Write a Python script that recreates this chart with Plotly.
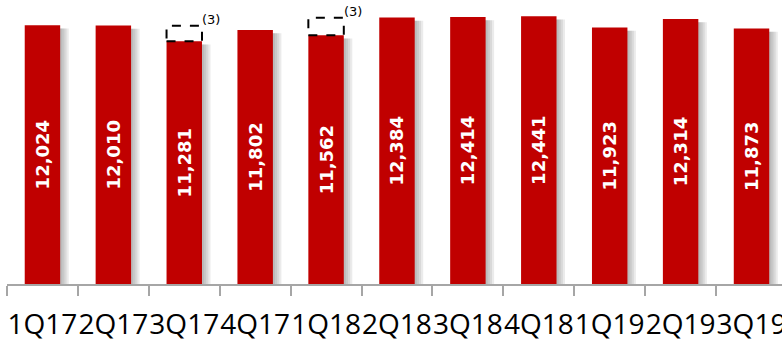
import plotly.graph_objects as go

# Quarterly values
quarters = ["1Q17", "2Q17", "3Q17", "4Q17", "1Q18", "2Q18", "3Q18", "4Q18", "1Q19", "2Q19", "3Q19"]
values = [12024, 12010, 11281, 11802, 11562, 12384, 12414, 12441, 11923, 12314, 11873]

# Restated levels shown as dashed outlines above two quarters
restated_quarters = ["3Q17", "1Q18"]
restated_values = [12000, 12380]
restated_note = "(3)"

BAR_RED = "#C00000"
BAR_W = 0.5

fig = go.Figure()

# soft drop shadow to the right of each bar
for k, dx in enumerate([0.03, 0.06, 0.09, 0.12]):
    fig.add_trace(go.Bar(
        x=quarters, y=values, base=-150,
        width=BAR_W, offset=-BAR_W / 2 + dx,
        marker=dict(color="rgba(90,90,90,0.12)", line=dict(width=0)),
        hoverinfo="skip", showlegend=False,
    ))

fig.add_trace(go.Bar(
    x=quarters, y=values,
    width=BAR_W, offset=-BAR_W / 2,
    marker=dict(color=BAR_RED, line=dict(width=0)),
    text=[f"{v:,}" for v in values],
    textposition="inside", insidetextanchor="middle", textangle=-90,
    textfont=dict(family="DejaVu Sans", size=18, color="white", weight="bold"),
    constraintext="none", showlegend=False,
))

for q, rv in zip(restated_quarters, restated_values):
    i = quarters.index(q)
    v = values[i]
    fig.add_shape(type="rect", xref="x", yref="y",
                  x0=i - BAR_W / 2, x1=i + BAR_W / 2, y0=v, y1=rv,
                  line=dict(color="black", width=2, dash="dash"),
                  fillcolor="rgba(0,0,0,0)")
    fig.add_annotation(x=i + BAR_W / 2, y=rv, xref="x", yref="y",
                       text=restated_note, showarrow=False,
                       xanchor="left", yanchor="bottom", xshift=-2, yshift=-3,
                       font=dict(family="DejaVu Sans", size=13, color="black"))

fig.update_layout(
    width=782, height=339,
    margin=dict(l=7, r=0, t=0, b=55),
    barmode="overlay",
    plot_bgcolor="white", paper_bgcolor="white",
    xaxis=dict(
        type="category", range=[-0.5, 10.43], automargin=False,
        showline=True, linecolor="#A6A6A6", linewidth=2,
        ticks="outside", tickson="boundaries", ticklen=10, tickcolor="#A6A6A6", tickwidth=2,
        tickangle=0, ticklabelstandoff=14,
        tickfont=dict(family="Open Sans", size=28, color="black"),
        showgrid=False, zeroline=False,
    ),
    yaxis=dict(range=[0, 13200], visible=False, showgrid=False, zeroline=False),
)

fig.write_html("out.html")
